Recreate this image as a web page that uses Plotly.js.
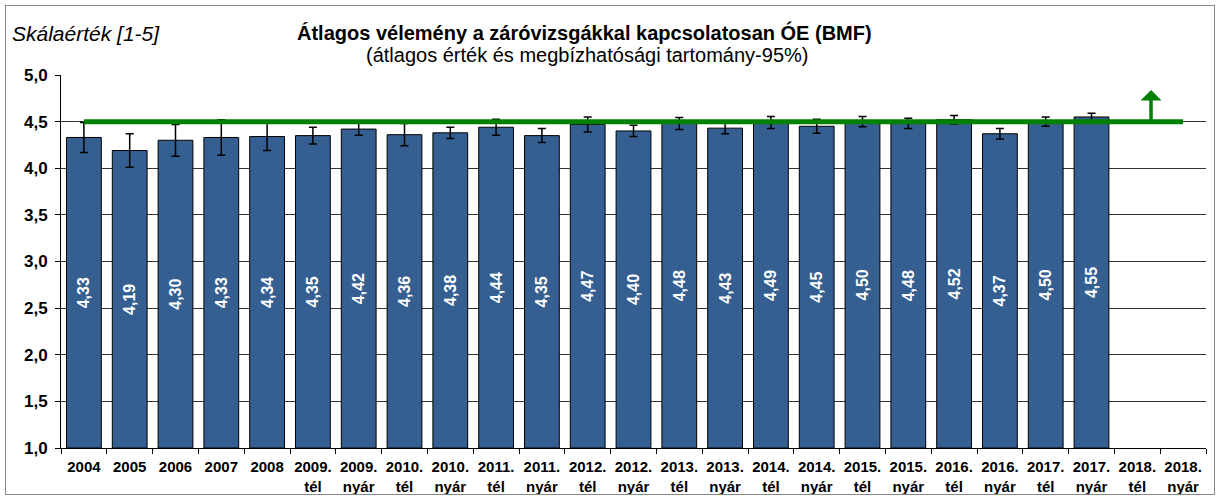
<!DOCTYPE html>
<html>
<head>
<meta charset="utf-8">
<script src="https://cdn.plot.ly/plotly-3.0.1.min.js"></script>
<style>
html,body{margin:0;padding:0;background:#fff;}
#wrap{position:relative;width:1219px;height:498px;}
#chart{position:absolute;left:0;top:0;width:1219px;height:498px;}
#frame{position:absolute;left:5px;top:5px;width:1208px;height:488px;border:1px solid #888;pointer-events:none;}
</style>
</head>
<body>
<div id="wrap"><div id="chart"></div><div id="frame"></div></div>
<script>
// ---- data ----
const categories = ['2004','2005','2006','2007','2008',
  '2009. tél','2009. nyár','2010. tél','2010. nyár','2011. tél','2011. nyár',
  '2012. tél','2012. nyár','2013. tél','2013. nyár','2014. tél','2014. nyár',
  '2015. tél','2015. nyár','2016. tél','2016. nyár','2017. tél','2017. nyár',
  '2018. tél','2018. nyár'];
const means = [4.33,4.19,4.30,4.33,4.34,4.35,4.42,4.36,4.38,4.44,4.35,4.47,4.40,4.48,4.43,4.49,4.45,4.50,4.48,4.52,4.37,4.50,4.55,null,null];
const ci95 = [0.16,0.18,0.17,0.19,0.15,0.09,0.065,0.12,0.06,0.085,0.075,0.08,0.06,0.065,0.06,0.065,0.075,0.055,0.055,0.045,0.055,0.05,0.04,null,null];
const target = categories.map(() => 4.5);
const scaleMin = 1.0;
const yTicks = [1.0,1.5,2.0,2.5,3.0,3.5,4.0,4.5,5.0];

const tickText = categories.map(c => c.replace(' ', '<br>'));
const labels = means.map(v => v == null ? '' : v.toFixed(2).replace('.', ','));

const FONT = '"Liberation Sans", Arial, sans-serif';

const traces = [
  {
    type: 'bar',
    x: categories,
    base: scaleMin,
    y: means.map(v => v == null ? null : v - scaleMin),
    marker: {color: '#365F91', line: {color: '#000', width: 1}},
    error_y: {type: 'data', array: ci95, visible: true, color: '#000', thickness: 1.5, width: 4},
    text: labels,
    textposition: 'inside',
    insidetextanchor: 'middle',
    constraintext: 'none',
    textangle: -90,
    textfont: {family: FONT, size: 16, color: '#fff', weight: 'bold'},
    hoverinfo: 'x+text'
  },
  {
    type: 'scatter',
    mode: 'lines',
    x: categories,
    y: target,
    line: {color: '#008000', width: 5},
    hoverinfo: 'skip'
  }
];

const layout = {
  width: 1219,
  height: 498,
  margin: {l: 61, r: 13, t: 75, b: 50},
  paper_bgcolor: '#fff',
  plot_bgcolor: '#fff',
  showlegend: false,
  separators: ', ',
  bargap: 0.24,
  font: {family: FONT, color: '#000'},
  xaxis: {
    type: 'category',
    tickvals: categories,
    ticktext: tickText,
    tickson: 'boundaries',
    ticks: 'outside',
    ticklen: 5,
    tickcolor: '#000',
    showline: true,
    linecolor: '#000',
    linewidth: 1,
    showgrid: false,
    tickangle: 0,
    ticklabelstandoff: 5,
    tickfont: {family: FONT, size: 15, color: '#000', weight: 'bold'},
    fixedrange: true
  },
  yaxis: {
    range: [1, 5],
    tickvals: yTicks,
    tickformat: '.1f',
    ticks: 'outside',
    ticklen: 5,
    tickcolor: '#000',
    showline: true,
    linecolor: '#000',
    linewidth: 1,
    showgrid: true,
    gridcolor: '#333',
    gridwidth: 1,
    zeroline: false,
    ticklabelstandoff: 4,
    tickfont: {family: FONT, size: 17, color: '#000', weight: 'bold'},
    fixedrange: true
  },
  annotations: [
    {xref: 'paper', yref: 'paper', x: 0.4576, y: 1, yanchor: 'middle', yshift: 43,
     text: '<b>Átlagos vélemény a záróvizsgákkal kapcsolatosan ÓE (BMF)</b>',
     showarrow: false, font: {family: FONT, size: 20, color: '#000'}},
    {xref: 'paper', yref: 'paper', x: 0.459, y: 1, yanchor: 'middle', yshift: 20,
     text: '(átlagos érték és megbízhatósági tartomány-95%)',
     showarrow: false, font: {family: FONT, size: 20, color: '#000'}},
    {xref: 'paper', yref: 'paper', x: -0.0445, xanchor: 'left', y: 1, yanchor: 'middle', yshift: 42,
     text: '<i>Skálaérték [1-5]</i>',
     showarrow: false, font: {family: FONT, size: 21, color: '#000'}},
    {xref: 'x', yref: 'y', axref: 'x', ayref: 'y', x: 23.3, y: 4.84, ax: 23.3, ay: 4.5,
     showarrow: true, arrowhead: 1, arrowsize: 1.0, arrowwidth: 3.5, arrowcolor: '#008000',
     standoff: 0, startstandoff: 0, text: ''}
  ]
};

Plotly.newPlot('chart', traces, layout, {displayModeBar: false, staticPlot: true});
</script>
</body>
</html>
